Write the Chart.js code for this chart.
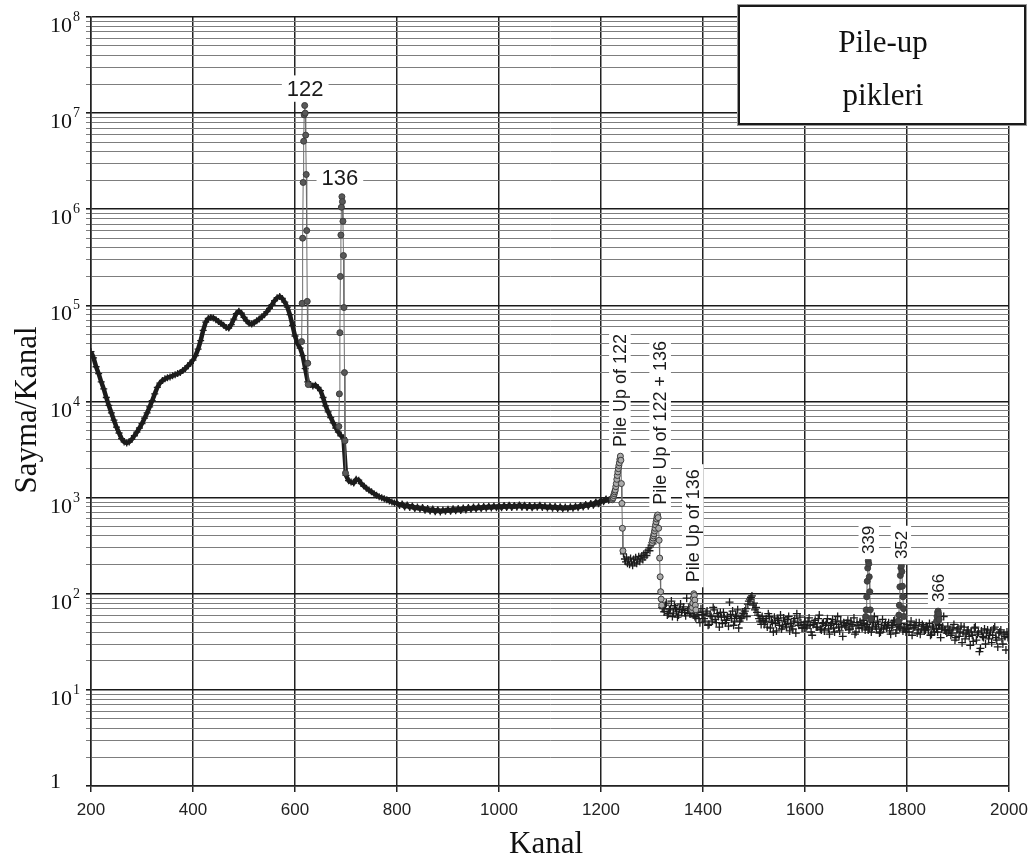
<!DOCTYPE html>
<html>
<head>
<meta charset="utf-8">
<title>Pile-up pikleri</title>
<script src="https://cdn.jsdelivr.net/npm/chart.js@4.4.1/dist/chart.umd.min.js"></script>
<style>
  body { margin: 0; background: #fff; }
  #wrap { width: 1036px; height: 864px; }
</style>
</head>
<body>
<div id="wrap"><canvas id="spectrum" width="1036" height="864"></canvas></div>
<script>
// continuum (+ markers), channel = start + i*step
const contStart = 200, contStep = 5;
const contCounts = [
  33000, 28500, 23000, 19500, 16000, 13500, 11000, 9100, 7600, 6400,
  5400, 4700, 4100, 3800, 3700, 3800, 4050, 4400, 4800, 5300,
  5900, 6700, 7600, 8800, 10200, 12000, 14000, 15500, 16500, 17200,
  17700, 18000, 18500, 19000, 19500, 20000, 21000, 22000, 23500, 25000,
  27000, 30000, 35000, 43000, 55000, 67000, 73000, 75000, 74000, 71000,
  68000, 65000, 62000, 59000, 58000, 63000, 72000, 82000, 87000, 83000,
  75000, 69000, 65000, 64000, 66000, 69000, 72000, 76000, 80000, 86000,
  93000, 102000, 112000, 120000, 124000, 118000, 108000, 96000, 80000, 62000,
  48000, 40000, 36000, 30000, 22000, 16000, 15000, 14500, 14800, 14000,
  13000, 11000, 9000, 7800, 6800, 6000, 5300, 4800, 4400, 4200,
  1700, 1500, 1450, 1420, 1550, 1520, 1400, 1320, 1250, 1200,
  1150, 1100, 1060, 1020, 1000, 975, 950, 925, 900, 880,
  880, 830, 860, 800, 840, 790, 820, 770, 800, 760,
  790, 740, 770, 725, 760, 715, 750, 710, 745, 720,
  755, 720, 765, 730, 770, 735, 780, 745, 790, 755,
  800, 760, 805, 770, 810, 775, 815, 780, 820, 785,
  825, 785, 830, 790, 835, 790, 830, 795, 840, 795,
  835, 790, 830, 785, 825, 795, 835, 790, 820, 780,
  815, 775, 810, 770, 805, 765, 800, 770, 805, 775,
  815, 785, 830, 800, 850, 815, 870, 835, 900, 865,
  935, 905, 970, 940, 1000
];
// plateau between the pile-up peaks
const plateauStart = 1244, plateauStep = 2;
const plateauCounts = [
  260, 230, 215, 240, 205, 225, 200, 235, 215, 195,
  230, 210, 240, 205, 225, 245, 215, 235, 250, 225,
  260, 240, 270, 250, 285, 300, 280, 320, 340, 330, 360
];
// high-channel tail, two interleaved runs
const tailStart = 1320, tailStep = 4;
const tailCounts = [
  72, 65, 80, 62, 70, 58, 75, 66, 60, 78,
  68, 64, 90, 70, 62, 74, 58, 66, 55, 70,
  60, 52, 66, 48, 58, 72, 54, 62, 45, 57,
  64, 50, 58, 82, 55, 47, 60, 68, 52, 56,
  62, 70, 78, 88, 95, 80, 72, 60, 52, 58,
  48, 55, 62, 44, 50, 57, 41, 53, 60, 46,
  52, 45, 58, 49, 43, 55, 62, 47, 50, 44,
  51, 46, 56, 40, 48, 53, 45, 60, 42, 50,
  47, 55, 38, 49, 44, 52, 58, 41, 46, 50,
  45, 53, 43, 48, 56, 40, 47, 51, 44, 49,
  46, 42, 52, 45, 58, 43, 48, 40, 54, 47,
  44, 50, 38, 47, 53, 42, 46, 49, 41, 45,
  48, 40, 52, 44, 47, 39, 50, 43, 46, 42,
  45, 49, 38, 44, 51, 40, 47, 43, 58, 41,
  46, 42, 39, 48, 35, 44, 40, 31, 45, 38,
  42, 29, 37, 44, 33, 40, 27, 36, 43, 39,
  34, 41, 37, 45, 33, 39, 42, 30, 36, 40,
  38
];
const tail2Start = 1322, tail2Step = 4;
const tail2Counts = [
  70, 76, 60, 68, 84, 63, 71, 57, 69, 64,
  73, 59, 67, 62, 78, 60, 56, 64, 50, 61,
  55, 63, 47, 60, 52, 68, 50, 58, 64, 49,
  57, 53, 46, 61, 66, 52, 58, 44, 55, 63,
  66, 58, 84, 92, 76, 68, 64, 55, 48, 53,
  51, 45, 58, 52, 40, 49, 55, 47, 43, 56,
  48, 54, 41, 46, 52, 39, 50, 57, 44, 48,
  44, 52, 47, 37, 50, 45, 55, 43, 49, 41,
  50, 43, 47, 54, 40, 48, 45, 52, 36, 47,
  49, 42, 51, 46, 38, 50, 44, 47, 53, 42,
  48, 44, 40, 50, 46, 52, 39, 45, 43, 50,
  47, 41, 45, 52, 39, 48, 44, 57, 43, 40,
  43, 47, 37, 45, 50, 42, 38, 48, 41, 46,
  42, 37, 46, 40, 43, 48, 35, 45, 42, 39,
  41, 37, 44, 33, 42, 36, 46, 39, 34, 41,
  36, 40, 32, 45, 38, 25, 41, 35, 30, 42,
  37, 31, 43, 35, 28, 40, 34, 38, 26, 35
];

// peaks, one channel per point
const peak122Start = 613;
const peak122 = [42000, 105000, 500000, 1900000, 5100000, 9600000, 12000000, 10000000, 5900000, 2300000, 600000, 110000, 25000, 15000];
const peak136Start = 686;
const peak136 = [5500, 12000, 52000, 200000, 540000, 1050000, 1350000, 1200000, 750000, 330000, 95000, 20000, 3900, 1800];
const pile122Start = 1222;
const pile122 = [950, 980, 1000, 1050, 1100, 1150, 1200, 1300, 1400, 1550, 1700, 1850, 2000, 2150, 2300, 2500, 2700, 2450, 1400, 870, 480, 280];
const pile122136Start = 1300;
const pile122136 = [340, 360, 380, 400, 420, 450, 480, 520, 560, 600, 640, 660, 620, 480, 360, 235, 150, 105, 88, 76];
const pile136Start = 1378;
const pile136 = [68, 72, 80, 90, 100, 96, 86, 76, 68];
const peak339Start = 1719;
const peak339 = [58, 68, 93, 135, 185, 220, 205, 150, 105, 68, 55];
const peak352Start = 1783;
const peak352 = [52, 60, 76, 118, 155, 185, 195, 170, 120, 93, 70, 58];
const peak366Start = 1858;
const peak366 = [52, 58, 64, 66, 62, 54];

const xTicks = [200, 400, 600, 800, 1000, 1200, 1400, 1600, 1800, 2000];
const powers = [0, 1, 2, 3, 4, 5, 6, 7, 8];

const peakLabels = [
  { text: '122', kanal: 620, sayma: 1.8e7, rot: 0, size: 22 },
  { text: '136', kanal: 688, sayma: 2.1e6, rot: 0, size: 22 },
  { text: 'Pile Up of 122', kanal: 1237, sayma: 1.3e4, rot: -90, size: 18 },
  { text: 'Pile Up of 122 + 136', kanal: 1316, sayma: 6000, rot: -90, size: 18 },
  { text: 'Pile Up of 136', kanal: 1380, sayma: 510, rot: -90, size: 18 },
  { text: '339', kanal: 1725, sayma: 363, rot: -90, size: 17 },
  { text: '352', kanal: 1788, sayma: 322, rot: -90, size: 17 },
  { text: '366', kanal: 1861, sayma: 115, rot: -90, size: 17 }
];

function seq(start, step, counts) {
  return counts.map((v, i) => ({ x: start + i * step, y: v }));
}

function peakSet(data, fill) {
  return {
    data: data,
    showLine: true,
    borderColor: '#6e6e6e',
    borderWidth: 1,
    pointStyle: 'circle',
    pointRadius: 3,
    pointBackgroundColor: fill,
    pointBorderColor: '#3c3c3c',
    pointBorderWidth: 1,
    order: 1
  };
}

function crossSet(data, r) {
  return {
    data: data,
    showLine: false,
    pointStyle: 'cross',
    pointRadius: r,
    pointBorderColor: '#1c1c1c',
    pointBorderWidth: 1.3,
    order: 5
  };
}

// the dense low-channel continuum reads as a thick band
const contBand = {
  data: seq(contStart, contStep, contCounts),
  showLine: true,
  borderColor: '#1c1c1c',
  borderWidth: 4.5,
  pointRadius: 0,
  order: 6
};

const decorations = {
  id: 'decorations',
  afterDraw(chart) {
    const ctx = chart.ctx;
    const xs = chart.scales.x, ys = chart.scales.y;
    ctx.save();

    // y labels with superscripts
    ctx.fillStyle = '#111';
    ctx.textAlign = 'left';
    ctx.textBaseline = 'alphabetic';
    powers.forEach(p => {
      const py = ys.getPixelForValue(Math.pow(10, p));
      ctx.font = '22px "Liberation Serif"';
      if (p === 0) {
        ctx.fillText('1', 50, py + 2);
        return;
      }
      ctx.fillText('10', 50, py + 15);
      const w = ctx.measureText('10').width;
      ctx.font = '14px "Liberation Serif"';
      ctx.fillText(String(p), 50 + w + 1, py + 4);
    });

    // axis titles
    ctx.font = '31px "Liberation Serif"';
    ctx.textAlign = 'center';
    ctx.textBaseline = 'middle';
    ctx.fillText('Kanal', 546, 845);
    ctx.save();
    ctx.translate(28, 410);
    ctx.rotate(-Math.PI / 2);
    ctx.fillText('Sayma/Kanal', 0, 0);
    ctx.restore();

    // peak labels
    peakLabels.forEach(l => {
      const px = xs.getPixelForValue(l.kanal);
      const py = ys.getPixelForValue(l.sayma);
      ctx.save();
      ctx.translate(px, py);
      ctx.rotate(l.rot * Math.PI / 180);
      ctx.font = l.size + 'px "Liberation Sans"';
      const w = ctx.measureText(l.text).width;
      ctx.fillStyle = '#fff';
      ctx.fillRect(-w / 2 - 5, -l.size * 0.6, w + 10, l.size * 1.2);
      ctx.fillStyle = '#1a1a1a';
      ctx.fillText(l.text, 0, 1);
      ctx.restore();
    });

    // title box
    ctx.fillStyle = '#fff';
    ctx.fillRect(738, 5, 288, 120);
    ctx.strokeStyle = '#9a9a9a';
    ctx.lineWidth = 1;
    ctx.strokeRect(737.5, 4.5, 289, 121);
    ctx.strokeStyle = '#1a1a1a';
    ctx.lineWidth = 2;
    ctx.strokeRect(739, 6, 286, 118);
    ctx.fillStyle = '#111';
    ctx.font = '31px "Liberation Serif"';
    ctx.fillText('Pile-up', 883, 44);
    ctx.fillText('pikleri', 883, 97);

    ctx.restore();
  }
};

new Chart(document.getElementById('spectrum'), {
  type: 'scatter',
  data: {
    datasets: [
      peakSet(seq(peak122Start, 1, peak122), '#595959'),
      peakSet(seq(peak136Start, 1, peak136), '#595959'),
      peakSet(seq(pile122Start, 1, pile122), '#ababab'),
      peakSet(seq(pile122136Start, 1, pile122136), '#ababab'),
      peakSet(seq(pile136Start, 1, pile136), '#ababab'),
      peakSet(seq(peak339Start, 1, peak339), '#454545'),
      peakSet(seq(peak352Start, 1, peak352), '#454545'),
      peakSet(seq(peak366Start, 1, peak366), '#454545'),
      crossSet(seq(contStart, contStep, contCounts), 3.5),
      crossSet(seq(plateauStart, plateauStep, plateauCounts), 3.5),
      crossSet(seq(tailStart, tailStep, tailCounts), 4),
      crossSet(seq(tail2Start, tail2Step, tail2Counts), 4),
      contBand
    ]
  },
  options: {
    responsive: false,
    animation: false,
    devicePixelRatio: 1,
    events: [],
    layout: { padding: { left: 0, right: 27, top: 17, bottom: 0 } },
    plugins: { legend: { display: false }, tooltip: { enabled: false } },
    scales: {
      x: {
        type: 'linear',
        min: 200,
        max: 2000,
        afterBuildTicks: s => { s.ticks = xTicks.map(v => ({ value: v })); },
        afterFit: s => { s.height = 78; },
        ticks: {
          color: '#222',
          font: { family: '"Liberation Sans", Arial, sans-serif', size: 17 },
          padding: 8,
          maxRotation: 0,
          callback: v => String(v)
        },
        grid: { color: '#222', lineWidth: 1.5, tickLength: 6 },
        border: { color: '#222', width: 1.5 }
      },
      y: {
        type: 'logarithmic',
        min: 1,
        max: 1e8,
        afterBuildTicks: s => {
          const t = [];
          powers.forEach(p => {
            for (let m = 1; m <= 9; m++) {
              const v = m * Math.pow(10, p);
              if (v <= 1e8) t.push({ value: v });
            }
          });
          s.ticks = t;
        },
        afterFit: s => { s.width = 91; },
        ticks: { display: false },
        grid: {
          color: c => (Math.abs(Math.log10(c.tick.value) % 1) < 1e-9 ? '#1a1a1a' : '#7d7d7d'),
          lineWidth: c => (Math.abs(Math.log10(c.tick.value) % 1) < 1e-9 ? 1.6 : 1),
          tickLength: 5
        },
        border: { color: '#222', width: 1.5 }
      }
    }
  },
  plugins: [decorations]
});
</script>
</body>
</html>
